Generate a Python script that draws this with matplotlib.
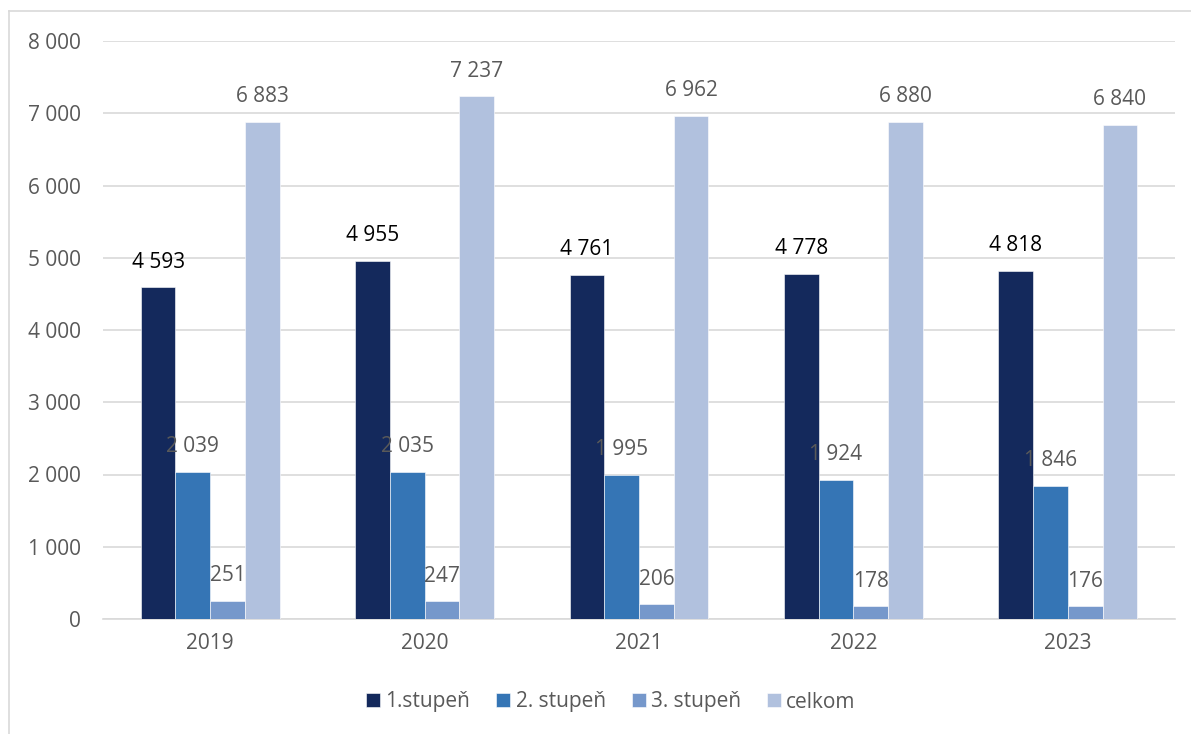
import matplotlib
matplotlib.use("Agg")
import matplotlib.pyplot as plt
from matplotlib.lines import Line2D
import numpy as np

years = ["2019", "2020", "2021", "2022", "2023"]
series_names = ["1.stupeň", "2. stupeň", "3. stupeň", "celkom"]
stupen1 = [4593, 4955, 4761, 4778, 4818]
stupen2 = [2039, 2035, 1995, 1924, 1846]
stupen3 = [251, 247, 206, 178, 176]
celkom = [6883, 7237, 6962, 6880, 6840]
y_ticks = [0, 1000, 2000, 3000, 4000, 5000, 6000, 7000, 8000]

colors = ["#14295C", "#3575B5", "#7698CB", "#B1C1DE"]
label_colors = ["#000000", "#595959", "#595959", "#595959"]

plt.rcParams['font.family'] = ['Open Sans', 'DejaVu Sans']

W, H = 1191, 734
fig = plt.figure(figsize=(W / 100, H / 100), dpi=100)
ax = fig.add_axes([103 / W, 1 - 619 / H, (1175 - 103) / W, (619 - 41) / H])

def fmt(v):
    return f"{v:,}".replace(",", " ")

x = np.arange(len(years))
bw = 0.162
data = [stupen1, stupen2, stupen3, celkom]
for i, (vals, c, lc, name) in enumerate(zip(data, colors, label_colors, series_names)):
    pos = x + (i - 1.5) * bw
    ax.bar(pos, vals, width=bw, color=c, edgecolor="#FFFFFF", linewidth=0.4, label=name, zorder=3)
    for p, v in zip(pos, vals):
        ax.annotate(fmt(v), (p, v), xytext=(0, 10.5), textcoords="offset points",
                    ha="center", va="bottom", fontsize=15, color=lc, zorder=4)

ax.set_xlim(-0.5, len(years) - 0.5)
ax.set_ylim(0, 8000)
ax.set_yticks(y_ticks)
ax.set_yticklabels([fmt(t) for t in y_ticks])
ax.set_xticks(x)
ax.set_xticklabels(years)
ax.tick_params(axis="both", length=0, labelsize=15, colors="#595959")
ax.tick_params(axis="y", pad=16)
ax.tick_params(axis="x", pad=10)
ax.yaxis.grid(True, color="#D9D9D9", linewidth=1.2, zorder=0)
ax.set_axisbelow(True)
for s in ["top", "right", "left"]:
    ax.spines[s].set_visible(False)
ax.spines["bottom"].set_color("#D9D9D9")
ax.spines["bottom"].set_linewidth(1.2)

leg = fig.legend(loc="center", bbox_to_anchor=(611 / W, 1 - 702 / H), ncol=4, frameon=False,
                 fontsize=15, handlelength=0.67, handleheight=0.67, handletextpad=0.25,
                 columnspacing=1.25)
for t in leg.get_texts():
    t.set_color("#595959")

fig.add_artist(Line2D([9 / W, 1], [1 - 11 / H, 1 - 11 / H], color="#D9D9D9", linewidth=1.2))
fig.add_artist(Line2D([9 / W, 9 / W], [0, 1 - 11 / H], color="#D9D9D9", linewidth=1.2))

fig.savefig("out.png", dpi=100, facecolor="white")
